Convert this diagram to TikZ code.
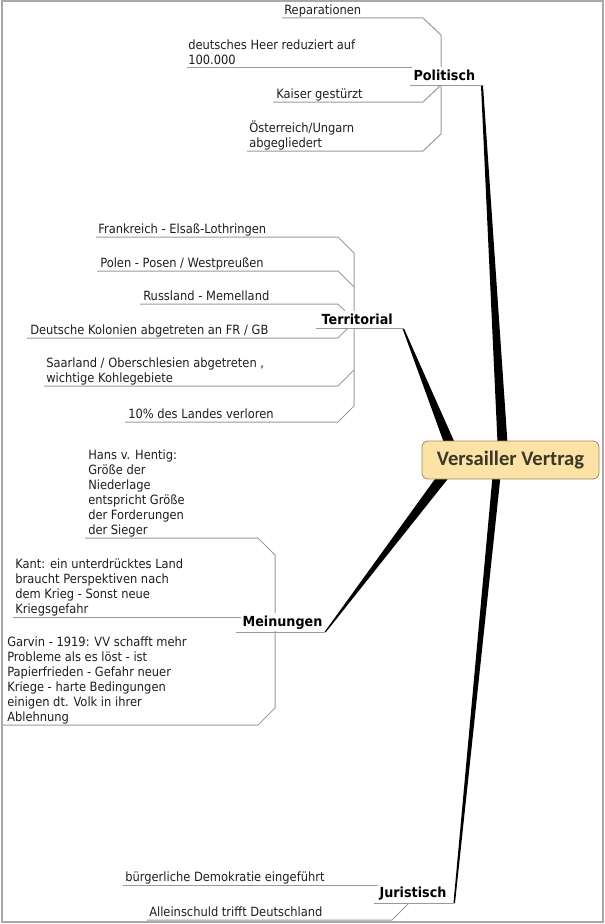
\documentclass[tikz,border=0pt]{standalone}
\usepackage{fontspec}
\newfontfamily\smallf{DejaVu Sans}[FakeStretch=0.9]
\newfontfamily\labelf{DejaVu Sans}[FakeStretch=0.92]
\newfontfamily\centf{Carlito}
\usetikzlibrary{calc}
\definecolor{linegray}{HTML}{9A9A9A}
\definecolor{framegray}{HTML}{A8A8A8}
\definecolor{txt}{HTML}{1E1E1E}
\definecolor{cfill}{HTML}{FCE3A5}
\definecolor{cdraw}{HTML}{A08C5E}
\definecolor{ctext}{HTML}{3A3828}
\pgfdeclarelayer{bg}
\pgfsetlayers{bg,main}
\begin{document}
\begin{tikzpicture}[x=0.75pt,y=-0.75pt,
  subtxt/.style={font=\smallf\fontsize{9.56}{11.25}\selectfont, align=left, inner sep=0pt, anchor=base west, text=txt},
  branch/.style={draw=linegray, line width=0.75pt},
  lbl/.style={font=\labelf\bfseries\fontsize{10.4}{12}\selectfont, fill=white, inner xsep=1pt, inner ysep=0pt, text height=10.2pt, text depth=3.2pt, anchor=base west, text=black},
  wedge/.style={fill=black},
  central/.style={draw=cdraw, fill=cfill, line width=0.6pt, rounded corners=4.5pt, minimum width=132.75pt, minimum height=28.5pt, inner sep=0pt, font=\centf\bfseries\fontsize{15.45}{18}\selectfont, text=ctext}
]
\useasboundingbox (0,0) rectangle (605,924);
\draw[framegray, line width=1.1pt] (2,1) rectangle (603,922);

% central node
\node[central] (V) at (510.5,460) {Versailler Vertrag};

% ---------- Politisch ----------
\node[subtxt] (p1) at (284,14.5) {Reparationen};
\node[subtxt] (p2) at (188,64.5) {deutsches Heer reduziert auf\\100.000};
\node[subtxt] (p3) at (276,98.5) {Kaiser gestürzt};
\node[subtxt] (p4) at (249,147.5) {Österreich/Ungarn\\abgegliedert};
\draw[branch] (282,18) -- (423,18) -- (441,35) -- (441,134) -- (423,151) -- (247,151);
\draw[branch] (187,68) -- (441,68);
\draw[branch] (273,102) -- (423,102) -- (441,85);
\node[lbl] (pol) at (412,80.5) {Politisch};
\draw[branch] (410,85.5) -- (482,85.5) coordinate (polend);

% ---------- Territorial ----------
\node[subtxt] (t1) at (98,233.5) {Frankreich - Elsaß-Lothringen};
\node[subtxt] (t2) at (100,267.5) {Polen - Posen / Westpreußen};
\node[subtxt] (t3) at (143,300.5) {Russland - Memelland};
\node[subtxt] (t4) at (30,334.5) {Deutsche Kolonien abgetreten an FR / GB};
\node[subtxt] (t5) at (46,382.5) {Saarland / Oberschlesien abgetreten ,\\wichtige Kohlegebiete};
\node[subtxt] (t6) at (128,418.5) {10\% des Landes verloren};
\draw[branch] (96,237) -- (338,237) -- (354,253) -- (354,406) -- (338,422) -- (125,422);
\draw[branch] (97,271) -- (338,271) -- (354,287);
\draw[branch] (140,304) -- (338,304) -- (354,320);
\draw[branch] (27,338) -- (338,338) -- (354,322);
\draw[branch] (44,386) -- (338,386) -- (354,370);
\node[lbl] (ter) at (320,324.5) {Territorial};
\draw[branch] (316,328.5) -- (403,328.5) coordinate (terend);

% ---------- Meinungen ----------
\node[subtxt] (m1) at (88,534.5) {Hans v. Hentig:\\Größe der\\Niederlage\\entspricht Größe\\der Forderungen\\der Sieger};
\node[subtxt] (m2) at (15,613.5) {Kant: ein unterdrücktes Land\\braucht Perspektiven nach\\dem Krieg - Sonst neue\\Kriegsgefahr};
\node[subtxt] (m3) at (7,721.5) {Garvin - 1919: VV schafft mehr\\Probleme als es löst - ist\\Papierfrieden - Gefahr neuer\\Kriege - harte Bedingungen\\einigen dt. Volk in ihrer\\Ablehnung};
\draw[branch] (85,538) -- (258,538) -- (275,555) -- (275,708) -- (258,725) -- (3,725);
\draw[branch] (13,617) -- (275,617);
\node[lbl] (mei) at (241,626.5) {Meinungen};
\draw[branch] (236,632) -- (325,632) coordinate (meiend);

% ---------- Juristisch ----------
\node[subtxt] (j1) at (125,881.5) {bürgerliche Demokratie eingeführt};
\node[subtxt] (j2) at (149,916.5) {Alleinschuld trifft Deutschland};
\draw[branch] (123,885) -- (409,885) -- (409,903);
\draw[branch] (147,920) -- (392,920) -- (409,903);
\node[lbl, text depth=4.5pt] (jur) at (378,897) {Juristisch};
\draw[branch] (374,903) -- (454,903) coordinate (jurend);

% ---------- tapered connectors ----------
\begin{pgfonlayer}{bg}
\fill[wedge] ($(polend)+(-1,0)$) -- ($(polend)+(1,0)$) -- ($(V.north west)+(86,4)$) -- ($(V.north west)+(76,4)$) -- cycle;
\fill[wedge] ($(terend)+(-0.5,0)$) -- ($(terend)+(1,0)$) -- ($(V.north west)+(34,4)$) -- ($(V.north west)+(23,4)$) -- cycle;
\fill[wedge] ($(meiend)+(-0.5,0)$) -- ($(meiend)+(1,0)$) -- ($(V.south west)+(29,-4)$) -- ($(V.south west)+(16,-4)$) -- cycle;
\fill[wedge] ($(jurend)+(-0.5,0)$) -- ($(jurend)+(1,0)$) -- ($(V.south west)+(79,-4)$) -- ($(V.south west)+(71,-4)$) -- cycle;
\end{pgfonlayer}
\end{tikzpicture}
\end{document}
